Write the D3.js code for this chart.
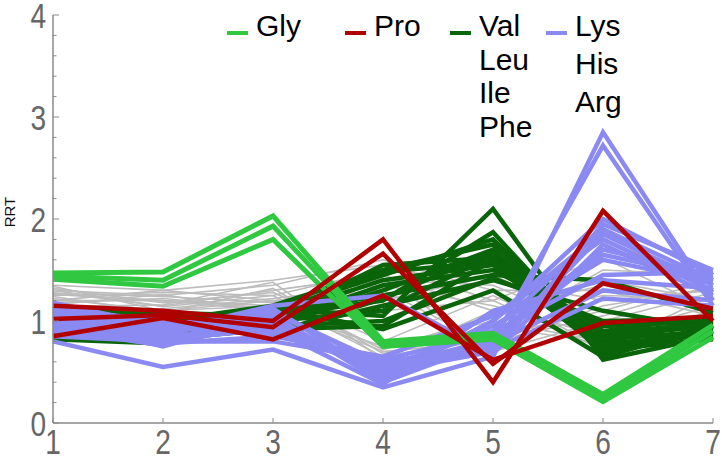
<!DOCTYPE html>
<html>
<head>
<meta charset="utf-8">
<script src="https://cdn.jsdelivr.net/npm/d3@7"></script>
<style>
  body { margin: 0; background: #fff; }
  svg { display: block; }
</style>
</head>
<body>
<div id="chart"></div>
<script>
var positions = [1, 2, 3, 4, 5, 6, 7];
var yTicks = [0, 1, 2, 3, 4];

// RRT per position, one row per residue trace
var glyLines = [
  [1.47, 1.48, 2.03, 0.80, 0.88, 0.28, 0.96],
  [1.44, 1.40, 1.93, 0.78, 0.85, 0.24, 0.90],
  [1.41, 1.34, 1.80, 0.75, 0.82, 0.21, 0.84]
];
var proLines = [
  [1.15, 1.10, 1.00, 1.80, 0.40, 2.08, 1.00],
  [1.02, 1.06, 0.94, 1.66, 0.58, 1.37, 1.12],
  [0.85, 1.03, 0.82, 1.25, 0.62, 0.98, 1.05]
];
var hydrophobicLines = [
  [0.82, 0.78, 1.12, 1.05, 2.10, 0.62, 0.85],
  [0.90, 0.85, 1.05, 1.20, 1.87, 0.70, 0.95],
  [1.05, 0.95, 1.10, 1.45, 1.80, 0.75, 0.88],
  [1.10, 1.00, 1.15, 1.50, 1.75, 0.80, 1.00],
  [0.95, 1.05, 0.95, 1.30, 1.70, 0.68, 0.90],
  [1.00, 0.90, 1.00, 1.10, 1.65, 0.85, 0.95],
  [0.88, 0.82, 0.92, 0.95, 1.60, 0.90, 1.05],
  [1.12, 1.08, 1.05, 1.40, 1.55, 0.72, 0.82],
  [0.85, 0.80, 0.98, 1.35, 1.50, 0.95, 1.00],
  [1.00, 1.02, 1.08, 1.25, 1.45, 1.40, 1.08],
  [0.92, 0.88, 0.90, 1.15, 1.40, 1.10, 0.92],
  [1.08, 1.00, 1.02, 1.55, 1.62, 0.78, 0.86],
  [0.98, 0.95, 1.12, 0.92, 1.30, 0.65, 0.95],
  [1.15, 1.05, 0.95, 1.00, 1.42, 1.00, 1.02],
  [0.86, 0.92, 1.06, 1.48, 1.58, 0.82, 0.90],
  [1.02, 0.98, 0.88, 1.22, 1.68, 0.88, 0.98]
];
var chargedLines = [
  [0.80, 0.55, 0.72, 0.35, 0.65, 2.85, 1.20],
  [1.00, 0.75, 1.05, 0.40, 0.80, 2.72, 1.15],
  [1.18, 0.95, 1.00, 0.45, 1.00, 2.00, 1.45],
  [1.05, 0.85, 0.95, 0.50, 0.70, 1.95, 1.50],
  [0.95, 0.80, 1.10, 0.55, 0.90, 1.90, 1.40],
  [1.12, 1.00, 0.90, 0.60, 0.75, 1.85, 1.35],
  [0.90, 0.78, 0.85, 0.65, 1.05, 1.80, 1.30],
  [1.15, 0.90, 1.15, 1.25, 0.68, 1.75, 1.25],
  [1.08, 0.88, 1.05, 0.42, 0.85, 1.70, 1.45],
  [0.98, 0.92, 0.98, 0.48, 0.95, 1.60, 1.38],
  [1.02, 0.82, 0.92, 0.38, 1.10, 1.40, 1.32],
  [0.92, 0.76, 1.00, 0.52, 0.78, 1.30, 1.20],
  [1.10, 0.96, 1.08, 0.58, 0.72, 1.22, 1.15],
  [0.85, 0.80, 0.80, 0.62, 0.88, 1.45, 1.48],
  [1.00, 0.86, 1.12, 0.44, 1.00, 1.88, 1.28],
  [1.06, 0.94, 0.88, 0.54, 0.82, 1.65, 1.42]
];
var otherLines = [
  [1.35, 1.30, 1.40, 1.55, 1.20, 1.62, 1.10],
  [1.30, 1.25, 1.35, 1.60, 1.30, 1.30, 1.05],
  [1.28, 1.15, 1.30, 1.45, 1.10, 1.40, 1.20],
  [1.25, 1.28, 1.25, 1.50, 1.40, 1.20, 1.30],
  [1.22, 1.10, 1.20, 0.65, 0.85, 1.10, 1.40],
  [1.20, 1.20, 1.15, 0.70, 0.80, 1.05, 1.35],
  [1.18, 1.22, 1.12, 0.75, 1.00, 0.80, 1.00],
  [1.15, 1.05, 1.10, 0.60, 0.95, 0.78, 1.10],
  [1.32, 1.18, 1.28, 0.80, 1.25, 0.75, 1.25],
  [1.12, 1.12, 1.22, 1.35, 1.15, 0.85, 1.15],
  [1.27, 1.24, 1.18, 1.40, 1.35, 0.90, 0.98],
  [1.24, 1.08, 1.32, 0.68, 0.90, 1.50, 1.45],
  [1.16, 1.26, 1.08, 1.20, 1.45, 0.95, 1.05],
  [1.30, 1.14, 1.25, 0.72, 1.05, 1.25, 1.22],
  [1.20, 1.30, 1.20, 1.30, 0.75, 1.15, 1.32],
  [1.14, 1.16, 1.38, 0.62, 1.10, 1.35, 1.12],
  [1.26, 1.20, 1.10, 1.10, 1.20, 0.72, 1.08],
  [1.34, 1.10, 1.15, 1.42, 0.70, 1.00, 1.28]
];

var legendLabels = [["Gly"], ["Pro"], ["Val", "Leu", "Ile", "Phe"], ["Lys", "His", "Arg"]];

var width = 722, height = 459;
var colors = {
  gray: "#bcbcbc",
  gly: "#2fc840",
  pro: "#b00000",
  hyd: "#0a640a",
  chg: "#8a8af2"
};

var svg = d3.select("#chart").append("svg")
  .attr("width", width)
  .attr("height", height);

var xScale = d3.scaleLinear().domain([1, 7]).range([53, 713]);
var yScale = d3.scaleLinear().domain([0, 4]).range([423, 15]);

var line = d3.line()
  .x((d, i) => xScale(positions[i]))
  .y(d => yScale(d));

// series groups, drawn back to front
var groups = [
  { data: otherLines, color: colors.gray, w: 1.6 },
  { data: hydrophobicLines, color: colors.hyd, w: 4.5 },
  { data: chargedLines, color: colors.chg, w: 4.5 },
  { data: glyLines, color: colors.gly, w: 5 },
  { data: proLines, color: colors.pro, w: 4.5 }
];

var plot = svg.append("g");
groups.forEach(function (g) {
  plot.append("g").selectAll("path")
    .data(g.data).enter()
    .append("path")
    .attr("d", line)
    .attr("fill", "none")
    .attr("stroke", g.color)
    .attr("stroke-width", g.w)
    .attr("stroke-linejoin", "miter")
    .attr("stroke-miterlimit", 10);
});

// axes
var axisColor = "#8a8a8a";
var labelFont = "'Liberation Sans', Arial, sans-serif";
var narrow = 0.78;

var yAxis = svg.append("g").attr("transform", "translate(53,0)");
yAxis.append("line")
  .attr("y1", yScale(0)).attr("y2", yScale(4))
  .attr("stroke", axisColor).attr("stroke-width", 1.5);
yAxis.selectAll(".minor")
  .data(d3.range(0, 4.01, 0.2)).enter()
  .append("line")
  .attr("y1", d => yScale(d)).attr("y2", d => yScale(d))
  .attr("x1", 0).attr("x2", d => Math.abs(d - Math.round(d)) < 1e-6 ? 6 : 3.5)
  .attr("stroke", axisColor).attr("stroke-width", 1);
yAxis.selectAll("text")
  .data(yTicks).enter()
  .append("text")
  .attr("transform", d => "translate(-7," + yScale(d) + ") scale(" + narrow + ",1)")
  .attr("dy", "0.36em")
  .attr("text-anchor", "end")
  .attr("font-family", labelFont)
  .attr("font-size", 36)
  .attr("fill", "#666")
  .text(d => d);

var xAxis = svg.append("g").attr("transform", "translate(0," + yScale(0) + ")");
xAxis.append("line")
  .attr("x1", xScale(1)).attr("x2", xScale(7))
  .attr("stroke", axisColor).attr("stroke-width", 1.5);
xAxis.selectAll(".tick")
  .data(positions).enter()
  .append("line")
  .attr("x1", d => xScale(d)).attr("x2", d => xScale(d))
  .attr("y1", 0).attr("y2", -5)
  .attr("stroke", axisColor).attr("stroke-width", 1);
xAxis.selectAll("text")
  .data(positions).enter()
  .append("text")
  .attr("transform", d => "translate(" + xScale(d) + ",31) scale(" + narrow + ",1)")
  .attr("text-anchor", "middle")
  .attr("font-family", labelFont)
  .attr("font-size", 36)
  .attr("fill", "#666")
  .text(d => d);

svg.append("text")
  .attr("transform", "translate(15,212) rotate(-90)")
  .attr("text-anchor", "middle")
  .attr("font-family", "'Liberation Sans', Arial, sans-serif")
  .attr("font-size", 15)
  .attr("fill", "#111")
  .text("RRT");

// legend
var legendItems = [
  { x: 227, color: colors.gly, gap: 34 },
  { x: 345, color: colors.pro, gap: 34 },
  { x: 450, color: colors.hyd, gap: 33.7 },
  { x: 546, color: colors.chg, gap: 38 }
];
var legend = svg.append("g");
legendItems.forEach(function (it, i) {
  legend.append("line")
    .attr("x1", it.x).attr("x2", it.x + 21)
    .attr("y1", 33).attr("y2", 33)
    .attr("stroke", it.color).attr("stroke-width", 4);
  legend.append("g").selectAll("text")
    .data(legendLabels[i]).enter()
    .append("text")
    .attr("x", it.x + 29)
    .attr("y", (d, j) => 36 + j * it.gap)
    .attr("font-family", "'Liberation Sans', Arial, sans-serif")
    .attr("font-size", 30)
    .attr("fill", "#000")
    .text(d => d);
});
</script>
</body>
</html>
